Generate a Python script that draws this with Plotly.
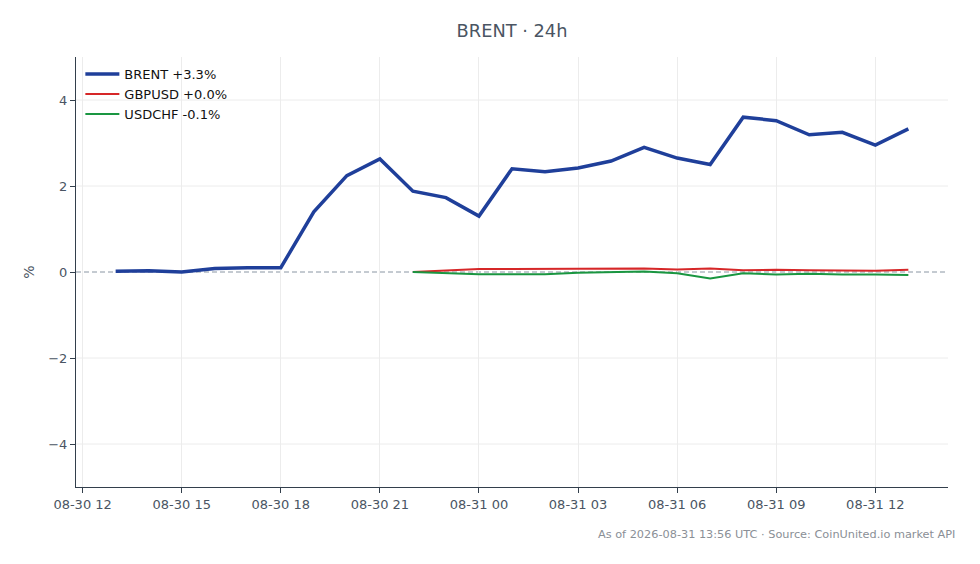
import pandas as pd
import plotly.graph_objects as go

brent_times = pd.date_range("2026-08-30 13:00", "2026-08-31 13:00", freq="h")
brent_vals = [0.02, 0.03, 0.0, 0.08, 0.1, 0.1, 1.4, 2.24, 2.63, 1.88, 1.73, 1.3,
              2.4, 2.33, 2.42, 2.58, 2.9, 2.65, 2.5, 3.6, 3.52, 3.19, 3.25, 2.95, 3.33]

fx_times = pd.date_range("2026-08-30 22:00", "2026-08-31 13:00", freq="h")
gbpusd_vals = [0.0, 0.04, 0.07, 0.07, 0.07, 0.07, 0.07, 0.08, 0.06, 0.08, 0.04, 0.05,
               0.04, 0.03, 0.03, 0.05]
usdchf_vals = [0.0, -0.03, -0.05, -0.05, -0.05, -0.02, 0.0, 0.01, -0.03, -0.15, -0.03,
               -0.06, -0.04, -0.06, -0.06, -0.07]

names = ["BRENT +3.3%", "GBPUSD +0.0%", "USDCHF -0.1%"]
tick_vals = pd.date_range("2026-08-30 12:00", "2026-08-31 12:00", freq="3h")
tick_text = [t.strftime("%m-%d %H") for t in tick_vals]
y_ticks = [-4, -2, 0, 2, 4]
y_ticktext = ["−4", "−2", "0", "2", "4"]

fig = go.Figure()
fig.add_trace(go.Scatter(x=brent_times, y=brent_vals, mode="lines", name=names[0],
                         line=dict(color="#1f3f9a", width=3.5)))
fig.add_trace(go.Scatter(x=fx_times, y=gbpusd_vals, mode="lines", name=names[1],
                         line=dict(color="#d62728", width=2)))
fig.add_trace(go.Scatter(x=fx_times, y=usdchf_vals, mode="lines", name=names[2],
                         line=dict(color="#1a9641", width=2)))

# horizontal gridlines as below-layer shapes so the dashed zero line can sit under the traces
for yv in y_ticks:
    if yv != 0:
        fig.add_hline(y=yv, line=dict(color="#ececec", width=1), layer="below")
fig.add_hline(y=0, line=dict(color="#8a96a3", width=1, dash="5px,3px"), layer="below")

font = "DejaVu Sans"
fig.update_layout(
    width=980, height=564,
    margin=dict(l=68, r=40, t=49, b=85),
    paper_bgcolor="white", plot_bgcolor="white",
    font=dict(family=font, size=13, color="#4a5563"),
    title=dict(text="BRENT · 24h", x=0.5143, xanchor="center", y=0.959, yanchor="middle",
               font=dict(family=font, size=17.8, color="#4a5563")),
    showlegend=True,
    legend=dict(x=0.005, y=0.995, xanchor="left", yanchor="top", bgcolor="rgba(255,255,255,0)",
                font=dict(family=font, size=13, color="#111111"), itemwidth=34,
                tracegroupgap=0),
    xaxis=dict(range=[pd.Timestamp("2026-08-30 11:48"), pd.Timestamp("2026-08-31 14:12")],
               tickvals=tick_vals, ticktext=tick_text, showgrid=True, gridcolor="#ececec",
               showline=True, linecolor="#333f4c", linewidth=1, ticks="outside",
               ticklen=5, tickcolor="#333f4c", zeroline=False,
               tickfont=dict(family=font, size=13, color="#4a5563")),
    yaxis=dict(range=[-5, 5], tickvals=y_ticks, ticktext=y_ticktext,
               showgrid=False, showline=True, linecolor="#333f4c",
               linewidth=1, ticks="outside", ticklen=5, tickcolor="#333f4c", zeroline=False,
               title=dict(text="%", font=dict(family=font, size=14, color="#4a5563"), standoff=10),
               tickfont=dict(family=font, size=13, color="#4a5563")),
    annotations=[dict(text="As of 2026-08-31 13:56 UTC · Source: CoinUnited.io market API",
                      xref="paper", yref="paper", x=1.01, y=-0.11, xanchor="right",
                      yanchor="middle", showarrow=False,
                      font=dict(family=font, size=11.3, color="#8a8f96"))],
)

fig.write_html("out.html")
